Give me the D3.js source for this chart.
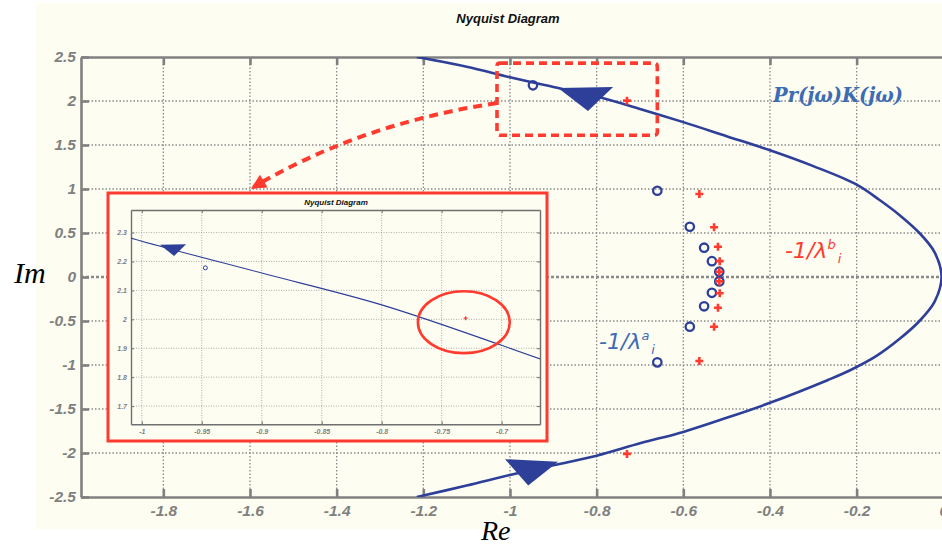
<!DOCTYPE html>
<html><head><meta charset="utf-8">
<script src="https://cdn.jsdelivr.net/npm/d3@7"></script>
<style>body{margin:0;background:#fff}svg{display:block}</style>
</head><body>
<script>
// ---------- data ----------
const xTicks = [-1.8, -1.6, -1.4, -1.2, -1, -0.8, -0.6, -0.4, -0.2, 0];
const yTicks = [-2.5, -2, -1.5, -1, -0.5, 0, 0.5, 1, 1.5, 2, 2.5];
const insetXTicks = [-1, -0.95, -0.9, -0.85, -0.8, -0.75, -0.7];
const insetYTicks = [1.7, 1.8, 1.9, 2, 2.1, 2.2, 2.3];

// Nyquist curve Pr(jw)K(jw)
const nyqRe = [-1.215, -1.1, -1.0, -0.9, -0.8, -0.7, -0.6, -0.5, -0.4, -0.3, -0.2, -0.147, -0.1, -0.055, -0.02, -0.004,
               -0.02, -0.055, -0.1, -0.155, -0.215, -0.266, -0.4, -0.5, -0.6, -0.7, -0.8, -0.9, -1.0, -1.1, -1.215];
const nyqIm = [2.5, 2.39, 2.27, 2.16, 2.05, 1.91, 1.76, 1.6, 1.44, 1.26, 1.05, 0.875, 0.7, 0.5, 0.28, 0,
               -0.28, -0.5, -0.7, -0.9, -1.06, -1.17, -1.43, -1.6, -1.76, -1.89, -2.03, -2.14, -2.25, -2.37, -2.5];

// -1/lambda^a_i (blue circles)
const aRe = [-0.947, -0.66, -0.585, -0.552, -0.534, -0.517, -0.517, -0.534, -0.552, -0.585, -0.66];
const aIm = [2.178, 0.98, 0.571, 0.333, 0.18, 0.06, -0.05, -0.18, -0.333, -0.565, -0.97];

// -1/lambda^b_i (red plus)
const bRe = [-0.730, -0.563, -0.529, -0.520, -0.516, -0.517, -0.517, -0.516, -0.520, -0.529, -0.563, -0.730];
const bIm = [2.004, 0.943, 0.565, 0.344, 0.18, 0.06, -0.05, -0.185, -0.35, -0.565, -0.955, -2.01];

// direction arrows (Re, Im)
const arrowTop = [[-0.889, 2.148], [-0.762, 2.159], [-0.82, 1.886]];
const arrowBottom = [[-1.0115, -2.07], [-0.889, -2.10], [-0.958, -2.37]];
const insetArrow = [[-0.9848, 2.258], [-0.9631, 2.260], [-0.9731, 2.219]];

// zoom box (Re, Im) and annotation curve
const zoomBoxRe = [-1.03, -0.66];
const zoomBoxIm = [1.61, 2.43];
const pointerCurve = [[-1.03, 1.977], [-1.348, 1.739], [-1.592, 1.02]];
const focusEllipse = {re: -0.7315, im: 1.99, rRe: 0.0383, rIm: 0.107};

// ---------- setup ----------
const W = 942, H = 544;
const BG = "#fdfdf1";
const GRAY = "#808080";
const BLUE = "#2e3f99";
const LBLUE = "#3d6cb4";
const RED = "#ff3b30";
const tickFont = "'Liberation Sans', Arial, sans-serif";

const svg = d3.select("body").append("svg").attr("width", W).attr("height", H)
  .attr("font-family", tickFont);

svg.append("rect").attr("x", 36).attr("y", 3).attr("width", W - 36).attr("height", 526).attr("fill", BG);

const x = d3.scaleLinear().domain([-1.99, 0]).range([81, 943.3]);
const y = d3.scaleLinear().domain([-2.5, 2.5]).range([497, 57]);

const defs = svg.append("defs");
defs.append("clipPath").attr("id", "clipMain").append("rect")
  .attr("x", 81).attr("y", 57).attr("width", 870).attr("height", 440);

// title
svg.append("text").attr("x", 508).attr("y", 23).attr("text-anchor", "middle")
  .attr("font-size", 13).attr("font-weight", "bold").attr("font-style", "italic")
  .attr("fill", "#111").text("Nyquist Diagram");

// grid
const grid = svg.append("g").attr("clip-path", "url(#clipMain)");
grid.selectAll("line.vx").data(xTicks).join("line")
  .attr("x1", d => x(d)).attr("x2", d => x(d)).attr("y1", y(2.5)).attr("y2", y(-2.5))
  .attr("stroke", "#8a8a8a").attr("stroke-width", 1.3).attr("stroke-dasharray", "1.5,2");
grid.selectAll("line.hy").data(yTicks.filter(d => Math.abs(d) < 2.5)).join("line")
  .attr("x1", x(-1.99)).attr("x2", x(0)).attr("y1", d => y(d)).attr("y2", d => y(d))
  .attr("stroke", "#8a8a8a").attr("stroke-width", d => d === 0 ? 2.6 : 1.3)
  .attr("stroke-dasharray", d => d === 0 ? "3,2" : "1.5,2");

// axes
function styleAxis(g) {
  g.select(".domain").attr("stroke", GRAY).attr("stroke-width", 2.6);
  g.selectAll(".tick line").attr("stroke", GRAY).attr("stroke-width", 2.6);
  g.selectAll(".tick text").attr("fill", GRAY).attr("font-size", 15.5)
    .attr("font-weight", "bold").attr("font-style", "italic").attr("font-family", tickFont);
}
const fmt = d => String(d);
svg.append("g").attr("transform", `translate(0,${y(-2.5)})`)
  .call(d3.axisBottom(x).tickValues(xTicks).tickSize(-8).tickSizeOuter(0).tickPadding(8).tickFormat(fmt))
  .call(styleAxis);
svg.append("g").attr("transform", `translate(0,${y(2.5)})`)
  .call(d3.axisTop(x).tickValues(xTicks).tickSize(-8).tickSizeOuter(0).tickFormat(""))
  .call(styleAxis);
svg.append("g").attr("transform", `translate(${x(-1.99)},0)`)
  .call(d3.axisLeft(y).tickValues(yTicks).tickSize(-8).tickSizeOuter(0).tickPadding(5).tickFormat(fmt))
  .call(styleAxis);

// axis titles
svg.append("text").attr("x", 14).attr("y", 283).attr("font-family", "'Liberation Serif', 'Times New Roman', serif")
  .attr("font-style", "italic").attr("font-size", 30).attr("fill", "#000").text("Im");
svg.append("text").attr("x", 481).attr("y", 540).attr("font-family", "'Liberation Serif', 'Times New Roman', serif")
  .attr("font-style", "italic").attr("font-size", 28).attr("fill", "#000").text("Re");

// nyquist curve
const plot = svg.append("g").attr("clip-path", "url(#clipMain)");
const nyq = nyqRe.map((r, i) => [r, nyqIm[i]]);
const lineMain = d3.line().x(d => x(d[0])).y(d => y(d[1])).curve(d3.curveCatmullRom.alpha(0.5));
plot.append("path").attr("d", lineMain(nyq)).attr("fill", "none").attr("stroke", BLUE).attr("stroke-width", 2.6);

const tri = (pts, sx, sy) => "M" + pts.map(p => sx(p[0]) + "," + sy(p[1])).join("L") + "Z";
plot.append("path").attr("d", tri(arrowTop, x, y)).attr("fill", BLUE);
plot.append("path").attr("d", tri(arrowBottom, x, y)).attr("fill", BLUE);

// markers
plot.selectAll("circle.a").data(aRe.map((r, i) => [r, aIm[i]])).join("circle")
  .attr("cx", d => x(d[0])).attr("cy", d => y(d[1])).attr("r", 4.2)
  .attr("fill", "none").attr("stroke", BLUE).attr("stroke-width", 2.3);
plot.selectAll("path.b").data(bRe.map((r, i) => [r, bIm[i]])).join("path")
  .attr("d", d => `M${x(d[0]) - 4},${y(d[1])}H${x(d[0]) + 4}M${x(d[0])},${y(d[1]) - 4}V${y(d[1]) + 4}`)
  .attr("stroke", RED).attr("stroke-width", 2.6).attr("fill", "none");

// zoom box
svg.append("rect").attr("x", x(zoomBoxRe[0])).attr("y", y(zoomBoxIm[1]))
  .attr("width", x(zoomBoxRe[1]) - x(zoomBoxRe[0])).attr("height", y(zoomBoxIm[0]) - y(zoomBoxIm[1]))
  .attr("rx", 3).attr("fill", "none").attr("stroke", RED).attr("stroke-width", 3.6)
  .attr("stroke-dasharray", "8,5");

// pointer curve with arrowhead
defs.append("marker").attr("id", "redHead").attr("viewBox", "0 0 10 10").attr("refX", 8).attr("refY", 5)
  .attr("markerUnits", "userSpaceOnUse").attr("markerWidth", 17).attr("markerHeight", 15).attr("orient", "auto")
  .append("path").attr("d", "M0,0L10,5L0,10Z").attr("fill", RED);
const pc = pointerCurve;
svg.append("path")
  .attr("d", `M${x(pc[0][0])},${y(pc[0][1])}Q${x(pc[1][0])},${y(pc[1][1])} ${x(pc[2][0])},${y(pc[2][1])}`)
  .attr("fill", "none").attr("stroke", RED).attr("stroke-width", 4).attr("stroke-dasharray", "9,6")
  .attr("marker-end", "url(#redHead)");

// labels
svg.append("text").attr("x", 773).attr("y", 102)
  .attr("font-family", "'DejaVu Serif', serif").attr("font-style", "italic").attr("font-weight", "bold")
  .attr("font-size", 19.5).attr("fill", LBLUE).text("Pr(jω)K(jω)");

function lamLabel(xp, yp, sup, color) {
  const t = svg.append("text").attr("x", xp).attr("y", yp)
    .attr("font-family", "'DejaVu Sans', sans-serif").attr("font-style", "italic")
    .attr("font-size", 22).attr("fill", color);
  t.append("tspan").text("-1/λ");
  t.append("tspan").attr("font-size", 13).attr("dy", -9).text(sup);
  t.append("tspan").attr("font-size", 13).attr("dx", 2).attr("dy", 14).text("i");
}
lamLabel(785, 258, "b", RED);
lamLabel(599, 349, "a", LBLUE);

// ---------- inset ----------
const inset = svg.append("g");
inset.append("rect").attr("x", 108).attr("y", 193).attr("width", 439).attr("height", 248)
  .attr("fill", BG).attr("stroke", RED).attr("stroke-width", 3);
const ix = d3.scaleLinear().domain([-1.009, -0.668]).range([131, 540]);
const iy = d3.scaleLinear().domain([1.637, 2.378]).range([424.3, 210]);
defs.append("clipPath").attr("id", "clipInset").append("rect")
  .attr("x", 131).attr("y", 210).attr("width", 409).attr("height", 214.3);

inset.append("text").attr("x", 336).attr("y", 205).attr("text-anchor", "middle")
  .attr("font-size", 8).attr("font-weight", "bold").attr("font-style", "italic").attr("fill", "#111")
  .text("Nyquist Diagram");

inset.selectAll("line.ivx").data(insetXTicks).join("line")
  .attr("x1", d => ix(d)).attr("x2", d => ix(d)).attr("y1", 210).attr("y2", 424.3)
  .attr("stroke", "#9a9a9a").attr("stroke-width", 0.8).attr("stroke-dasharray", "1,1.5");
inset.selectAll("line.ihy").data(insetYTicks).join("line")
  .attr("x1", 131).attr("x2", 540).attr("y1", d => iy(d)).attr("y2", d => iy(d))
  .attr("stroke", "#9a9a9a").attr("stroke-width", 0.8).attr("stroke-dasharray", "1,1.5");

function styleInsetAxis(g) {
  g.select(".domain").attr("stroke", "#707070").attr("stroke-width", 1.4);
  g.selectAll(".tick line").attr("stroke", "#707070").attr("stroke-width", 1);
  g.selectAll(".tick text").attr("fill", GRAY).attr("font-size", 7)
    .attr("font-weight", "bold").attr("font-style", "italic").attr("font-family", tickFont);
}
inset.append("g").attr("transform", "translate(0,424.3)")
  .call(d3.axisBottom(ix).tickValues(insetXTicks).tickSize(-3).tickSizeOuter(0).tickPadding(5).tickFormat(fmt))
  .call(styleInsetAxis);
inset.append("g").attr("transform", "translate(0,210)")
  .call(d3.axisTop(ix).tickValues(insetXTicks).tickSize(-3).tickSizeOuter(0).tickFormat(""))
  .call(styleInsetAxis);
inset.append("g").attr("transform", "translate(131,0)")
  .call(d3.axisLeft(iy).tickValues(insetYTicks).tickSize(-3).tickSizeOuter(0).tickPadding(4).tickFormat(fmt))
  .call(styleInsetAxis);
inset.append("g").attr("transform", "translate(540,0)")
  .call(d3.axisRight(iy).tickValues(insetYTicks).tickSize(-3).tickSizeOuter(0).tickFormat(""))
  .call(styleInsetAxis);

const iplot = inset.append("g").attr("clip-path", "url(#clipInset)");
const lineInset = d3.line().x(d => ix(d[0])).y(d => iy(d[1])).curve(d3.curveCatmullRom.alpha(0.5));
iplot.append("path").attr("d", lineInset(nyq)).attr("fill", "none").attr("stroke", BLUE).attr("stroke-width", 1.1);
iplot.append("path").attr("d", tri(insetArrow, ix, iy)).attr("fill", BLUE);
iplot.append("circle").attr("cx", ix(aRe[0])).attr("cy", iy(aIm[0])).attr("r", 2)
  .attr("fill", "none").attr("stroke", BLUE).attr("stroke-width", 1);
iplot.append("path")
  .attr("d", `M${ix(bRe[0]) - 2},${iy(bIm[0])}H${ix(bRe[0]) + 2}M${ix(bRe[0])},${iy(bIm[0]) - 2}V${iy(bIm[0]) + 2}`)
  .attr("stroke", RED).attr("stroke-width", 1.2);
iplot.append("ellipse").attr("cx", ix(focusEllipse.re)).attr("cy", iy(focusEllipse.im))
  .attr("rx", ix(focusEllipse.re + focusEllipse.rRe) - ix(focusEllipse.re))
  .attr("ry", iy(focusEllipse.im) - iy(focusEllipse.im + focusEllipse.rIm))
  .attr("fill", "none").attr("stroke", RED).attr("stroke-width", 2.6);
</script>
</body></html>
